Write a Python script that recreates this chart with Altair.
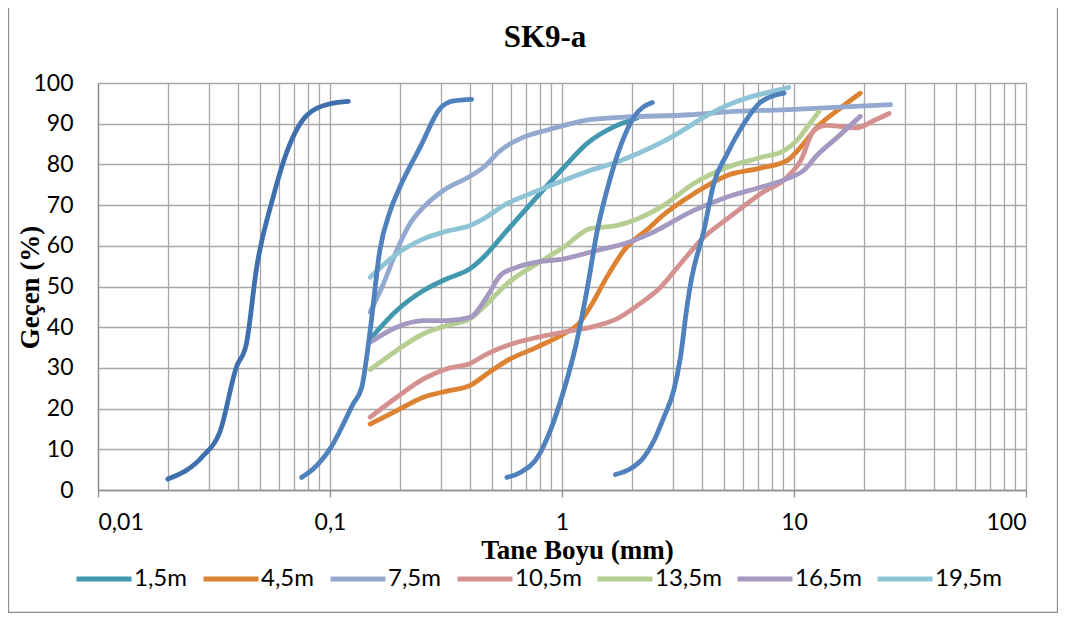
import altair as alt
import pandas as pd

# ---- data ----
series_names = ["1,5m", "4,5m", "7,5m", "10,5m", "13,5m", "16,5m", "19,5m"]
series_colors = ["#4198AF", "#DD8133", "#93A9CF", "#D4918F", "#B7CE93", "#A699C1", "#8FC3D6"]

x_15 = [0.149, 0.194, 0.253, 0.319, 0.402, 0.459, 0.58, 0.78, 1.02, 1.28, 1.67, 2.11]
y_15 = [37.1, 44.1, 49.0, 51.9, 54.4, 57.2, 63.8, 72.0, 79.3, 85.1, 89.2, 91.4]

x_45 = [0.149, 0.194, 0.253, 0.319, 0.402, 0.474, 0.58, 0.78, 1.02, 1.18, 1.32, 1.56, 1.85,
        2.40, 2.66, 3.70, 5.15, 7.18, 9.35, 10.7, 12.6, 15.4, 19.3]
y_45 = [16.2, 19.5, 22.8, 24.3, 25.7, 28.5, 31.8, 35.1, 38.4, 40.8, 44.9, 52.3, 58.9,
        64.6, 67.0, 72.8, 77.3, 79.1, 81.0, 84.3, 89.2, 93.3, 97.5]

x_75 = [0.149, 0.170, 0.194, 0.221, 0.253, 0.308, 0.402, 0.459, 0.542, 0.683, 0.86, 1.02,
        1.32, 1.85, 3.58, 5.15, 10.0, 26.1]
y_75 = [43.7, 50.7, 58.9, 65.4, 69.5, 73.6, 77.1, 79.3, 83.4, 86.7, 88.4, 89.6,
        91.0, 91.6, 92.2, 92.9, 93.5, 94.7]

x_105 = [0.149, 0.194, 0.253, 0.319, 0.402, 0.474, 0.58, 0.78, 1.02, 1.42, 1.73, 2.11, 2.66,
         3.24, 4.09, 5.15, 7.18, 9.35, 10.7, 12.2, 13.9, 18.7, 22.1, 25.7]
y_105 = [17.9, 22.8, 27.3, 29.8, 31.1, 33.4, 35.5, 37.5, 38.8, 40.4, 42.1, 45.3, 49.8,
         55.6, 62.1, 66.6, 72.8, 76.9, 81.0, 88.4, 89.6, 89.0, 90.8, 92.5]

x_135 = [0.149, 0.194, 0.253, 0.319, 0.402, 0.474, 0.58, 0.78, 1.02, 1.32, 1.73, 2.11, 2.75,
         3.70, 5.15, 7.18, 9.06, 10.3, 11.4, 12.8]
y_135 = [29.6, 34.3, 38.4, 40.4, 42.1, 45.7, 50.7, 55.6, 59.7, 64.2, 65.0, 66.6, 70.0,
         75.3, 79.3, 81.7, 83.4, 85.9, 89.2, 92.9]

x_165 = [0.149, 0.194, 0.253, 0.319, 0.402, 0.474, 0.542, 0.637, 0.78, 1.02, 1.42, 1.85, 2.40,
         3.70, 5.15, 7.18, 9.35, 11.0, 12.6, 15.4, 19.3]
y_165 = [36.3, 40.0, 41.6, 41.6, 42.4, 47.4, 52.7, 54.7, 56.0, 56.8, 58.9, 60.5, 63.0,
         68.7, 72.0, 74.4, 76.5, 78.5, 82.3, 86.7, 91.8]

x_195 = [0.149, 0.194, 0.253, 0.319, 0.402, 0.474, 0.56, 0.73, 1.02, 1.32, 1.73, 2.11, 2.75,
         3.24, 4.09, 5.15, 6.5, 7.9, 9.5]
y_195 = [52.3, 58.0, 61.7, 63.6, 65.0, 67.1, 69.9, 72.8, 76.1, 78.5, 80.6, 82.6, 85.7,
         88.0, 91.6, 94.5, 96.6, 97.8, 98.9]

# unlabeled blue curves (not in legend)
blue_names = ["A", "B", "C", "D"]
blue_colors = ["#3F6FAD", "#4F81BD", "#4F81BD", "#4F81BD"]

x_a = [0.020, 0.0284, 0.0335, 0.0395, 0.0436, 0.0483, 0.0569, 0.064, 0.0793, 0.1, 0.12]
y_a = [2.7, 8.4, 14.2, 30.2, 35.9, 54.7, 72.0, 81.8, 92.0, 94.9, 95.5]

x_b = [0.0755, 0.0848, 0.1, 0.126, 0.137, 0.149, 0.164, 0.182, 0.2, 0.245, 0.298, 0.34, 0.408]
y_b = [3.1, 5.2, 10.1, 21.2, 25.2, 39.2, 58.9, 68.7, 74.4, 84.3, 93.7, 95.6, 96.0]

x_c = [0.579, 0.661, 0.792, 0.89, 1.017, 1.143, 1.28, 1.42, 1.62, 1.85, 2.04, 2.45]
y_c = [3.1, 4.3, 8.4, 14.6, 24.4, 35.1, 49.0, 63.8, 76.9, 86.7, 91.6, 95.2]

x_d = [1.70, 1.97, 2.25, 2.49, 2.75, 3.03, 3.24, 3.47, 3.62, 4.09, 4.51, 5.15, 6.08, 7.18, 9.06]
y_d = [3.8, 5.2, 8.0, 12.1, 17.9, 24.4, 32.6, 45.7, 52.0, 63.8, 75.3, 82.6, 90.0, 95.3, 97.5]

x_tick_values = [0.01, 0.02, 0.03, 0.04, 0.05, 0.06, 0.07, 0.08, 0.09,
                 0.1, 0.2, 0.3, 0.4, 0.5, 0.6, 0.7, 0.8, 0.9,
                 1, 2, 3, 4, 5, 6, 7, 8, 9,
                 10, 20, 30, 40, 50, 60, 70, 80, 90, 100]
y_tick_values = [0, 10, 20, 30, 40, 50, 60, 70, 80, 90, 100]

title_text = "SK9-a"
x_title = "Tane Boyu (mm)"
y_title = "Geçen (%)"

# ---- build tables ----
rows = []
for name, xs, ys in zip(series_names,
                        [x_15, x_45, x_75, x_105, x_135, x_165, x_195],
                        [y_15, y_45, y_75, y_105, y_135, y_165, y_195]):
    for i, (xv, yv) in enumerate(zip(xs, ys)):
        rows.append({"seri": name, "x": xv, "y": yv, "i": i})
df = pd.DataFrame(rows)

brows = []
for name, xs, ys in zip(blue_names, [x_a, x_b, x_c, x_d], [y_a, y_b, y_c, y_d]):
    for i, (xv, yv) in enumerate(zip(xs, ys)):
        brows.append({"b": name, "x": xv, "y": yv, "i": i})
bdf = pd.DataFrame(brows)

W, H = 1050, 605
PL, PT = 90, 75
PW, PH = 928, 407

label_expr = ("datum.value == 0.01 ? '0,01' : datum.value == 0.1 ? '0,1' : "
              "datum.value == 1 ? '1' : datum.value == 10 ? '10' : "
              "datum.value == 100 ? '100' : ''")
major_test = "indexof([0.01, 0.1, 1, 10, 100], datum.value) >= 0"

x_enc = alt.X("x:Q",
              scale=alt.Scale(type="log", domain=[0.01, 100], nice=False),
              axis=alt.Axis(values=x_tick_values, labelExpr=label_expr,
                            title=x_title, grid=True,
                            tickOpacity={"condition": {"test": major_test, "value": 1}, "value": 0},
                            tickSize=7, labelPadding=14,
                            titleX=479, titleY=68, titleAlign="center",
                            titleBaseline="alphabetic", titleAnchor="start"))
y_enc = alt.Y("y:Q",
              scale=alt.Scale(domain=[0, 100], nice=False),
              axis=alt.Axis(values=y_tick_values, title=y_title, grid=True,
                            tickSize=0, labelPadding=25,
                            titleX=-68, titleY=204, titleAngle=270,
                            titleAlign="center", titleBaseline="middle",
                            titleAnchor="start"))

colored = alt.Chart(df).mark_line(interpolate="monotone", strokeWidth=4.8,
                                  strokeCap="round", strokeJoin="round").encode(
    x=x_enc, y=y_enc,
    color=alt.Color("seri:N",
                    scale=alt.Scale(domain=series_names, range=series_colors),
                    sort=series_names,
                    legend=alt.Legend(title=None, orient="none", direction="horizontal",
                                      columns=7, legendX=-24, legendY=466,
                                      symbolType="stroke", symbolSize=3025,
                                      symbolStrokeWidth=5, labelOffset=0,
                                      columnPadding=5, labelFont="Lato",
                                      labelFontSize=24, labelColor="#000000")),
    order="i:Q",
)

blues = alt.Chart(bdf).mark_line(interpolate="monotone", strokeWidth=4.8,
                                 strokeCap="round", strokeJoin="round").encode(
    x="x:Q", y="y:Q",
    stroke=alt.Stroke("b:N", scale=alt.Scale(domain=blue_names, range=blue_colors),
                      legend=None),
    order="i:Q",
)

one = pd.DataFrame({"t": [title_text]})
title_mark = alt.Chart(one).mark_text(font="Liberation Serif", fontSize=31,
                                      fontWeight="bold", color="#000000",
                                      align="center", baseline="alphabetic").encode(
    x=alt.value(447), y=alt.value(-36), text="t:N")

frame = alt.Chart(one).mark_rect(fill="transparent", stroke="#8C8C8C",
                                 strokeWidth=1.3).encode(
    x=alt.value(-PL + 0.5), x2=alt.value(W - PL - 0.5),
    y=alt.value(-PT - 20), y2=alt.value(H - PT - 0.5))

chart = alt.layer(frame, colored, blues, title_mark).properties(
    width=PW, height=PH,
    autosize=alt.AutoSizeParams(type="none"),
    padding={"left": PL, "top": PT, "right": W - PL - PW, "bottom": H - PT - PH},
    background="white",
).configure_view(stroke=None).configure_axis(
    gridColor="#A6A6A6", gridWidth=1.3, domainColor="#8C8C8C", domainWidth=1.3,
    tickColor="#8C8C8C", tickWidth=1.3,
    labelFont="Lato", labelFontSize=23, labelColor="#000000",
    titleFont="Liberation Serif", titleFontSize=27, titleFontWeight="bold",
    titleColor="#000000",
)

chart.save("out.html", embed_options={"renderer": "svg", "actions": False})
